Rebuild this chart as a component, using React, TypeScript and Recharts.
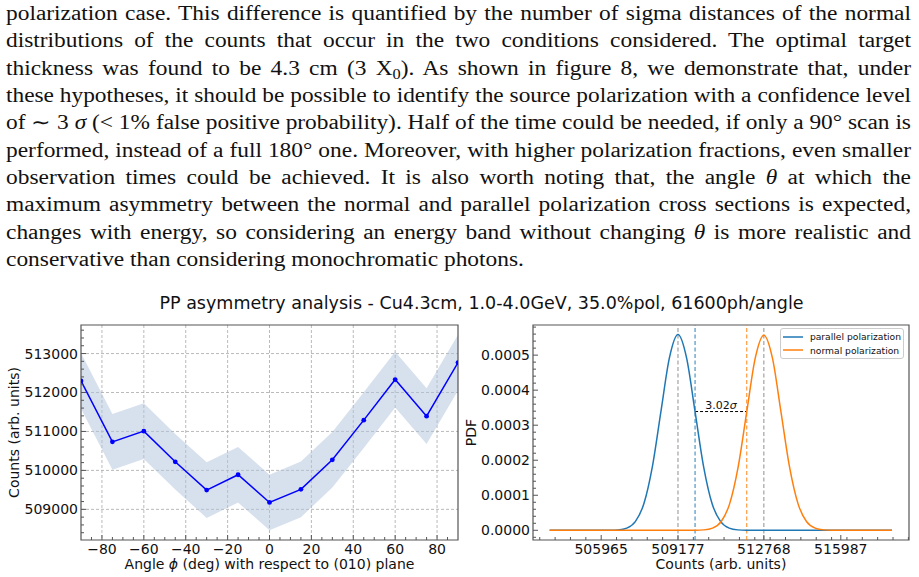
import React, { useLayoutEffect, useRef, useState } from 'react';
import {
  ComposedChart,
  Line,
  Area,
  XAxis,
  YAxis,
  CartesianGrid,
  ReferenceLine,
  ReferenceArea,
  Legend,
  Label,
} from 'recharts';

// ---------- angular scan (left panel) ----------
const angles = [-90, -75, -60, -45, -30, -15, 0, 15, 30, 45, 60, 75, 90];
const counts = [512298, 510733, 511008, 510221, 509495, 509888, 509177, 509513, 510272, 511290, 512333, 511393, 512768];
const countErrors = [716, 715, 715, 714, 714, 714, 714, 714, 714, 715, 716, 715, 716];

const angleMajorTicks = [-80, -60, -40, -20, 0, 20, 40, 60, 80];
const angleMinorTicks = [-85, -75, -70, -65, -55, -50, -45, -35, -30, -25, -15, -10, -5, 5, 10, 15, 25, 30, 35, 45, 50, 55, 65, 70, 75, 85];
const countMajorTicks = [509000, 510000, 511000, 512000, 513000];
const countMinorTicks = [508400, 508600, 508800, 509200, 509400, 509600, 509800, 510200, 510400, 510600, 510800, 511200, 511400, 511600, 511800, 512200, 512400, 512600, 512800, 513200, 513400, 513600];
const angleDomain: [number, number] = [-90, 90];
const countDomain: [number, number] = [508213, 513733];

// ---------- count distributions (right panel) ----------
const parallelCounts = [503810, 506321, 506678, 507035, 507392, 507749, 508106, 508463, 508820, 509177, 509534, 509891, 510248, 510605, 510962, 511319, 511676, 512033, 518130];
const parallelPdf = [0, 0.0000002, 0.0000012, 0.0000062, 0.0000246, 0.0000757, 0.000182, 0.000339, 0.000493, 0.000559, 0.000493, 0.000339, 0.000182, 0.0000757, 0.0000246, 0.0000062, 0.0000012, 0.0000002, 0];
const normalCounts = [503810, 509904, 510262, 510620, 510978, 511336, 511694, 512052, 512410, 512768, 513126, 513484, 513842, 514200, 514558, 514916, 515274, 515632, 518130];
const normalPdf = [0, 0.0000002, 0.0000012, 0.0000062, 0.0000245, 0.0000754, 0.000181, 0.000338, 0.000492, 0.000557, 0.000492, 0.000338, 0.000181, 0.0000754, 0.0000245, 0.0000062, 0.0000012, 0.0000002, 0];

const meanCounts = [509177, 512768];
const parallelThreshold = 509891;
const normalThreshold = 512052;
const separationPdf = 0.000339;
const separationSigma = '3.02';

const pdfMajorTicks = [0, 0.0001, 0.0002, 0.0003, 0.0004, 0.0005];
const pdfMinorTicks = [-0.00002, 0.00002, 0.00004, 0.00006, 0.00008, 0.00012, 0.00014, 0.00016, 0.00018, 0.00022, 0.00024, 0.00026, 0.00028, 0.00032, 0.00034, 0.00036, 0.00038, 0.00042, 0.00044, 0.00046, 0.00048, 0.00052, 0.00054, 0.00056, 0.00058];
const countsMajorTicks = [505965, 509177, 512768, 515987];
const countsMinorTicks = [503395, 504038, 504680, 505323, 506607, 507250, 507892, 508535, 509819, 510462, 511104, 511747, 512389, 513031, 513674, 514316, 514959, 515601, 516243, 516886, 517528, 518171, 518813];
const pdfDomain: [number, number] = [-0.0000277, 0.000586];
const countsDomain: [number, number] = [503113, 518839];

const legendItems = [
  { label: 'parallel polarization', color: '#1f77b4' },
  { label: 'normal polarization', color: '#ff7f0e' },
];

const chartTitle = 'PP asymmetry analysis - Cu4.3cm, 1.0-4.0GeV, 35.0%pol, 61600ph/angle';

// ---------- derived tables ----------
const scanRows = angles.map((a, i) => ({
  angle: a,
  count: counts[i],
  band: [counts[i] - countErrors[i], counts[i] + countErrors[i]],
}));
const parallelRows = parallelCounts.map((x, i) => ({ x, y: parallelPdf[i] }));
const normalRows = normalCounts.map((x, i) => ({ x, y: normalPdf[i] }));

const FONT = '"DejaVu Sans", sans-serif';
const SPINE = '#555555';
const TEXT = '#111111';

const sortTicks = (a: number[], b: number[]) => [...a, ...b].sort((p, q) => p - q);
const isMajor = (v: number, majors: number[]) =>
  majors.some((m) => Math.abs(m - v) <= 1e-9 * Math.max(1, Math.abs(m)));

const minusFmt = (v: number) => (v < 0 ? '\u2212' + Math.abs(v) : String(v));

// inward-pointing ticks on the bottom spine, labels only on major ticks
const bottomTick = (majors: number[], fmt: (v: number) => string) => (props: any) => {
  const { x, y, payload } = props;
  const major = isMajor(payload.value, majors);
  return (
    <g>
      <line x1={x} x2={x} y1={y} y2={y - (major ? 5 : 3)} stroke={SPINE} strokeWidth={1} />
      {major && (
        <text x={x} y={y + 14} textAnchor="middle" fontSize={14} fontFamily={FONT} fill={TEXT}>
          {fmt(payload.value)}
        </text>
      )}
    </g>
  );
};

// inward-pointing ticks on the left spine
const leftTick = (majors: number[], fmt: (v: number) => string) => (props: any) => {
  const { x, y, payload } = props;
  const major = isMajor(payload.value, majors);
  return (
    <g>
      <line x1={x} x2={x + (major ? 5 : 3)} y1={y} y2={y} stroke={SPINE} strokeWidth={1} />
      {major && (
        <text x={x - 3} y={y + 5} textAnchor="end" fontSize={14} fontFamily={FONT} fill={TEXT}>
          {fmt(payload.value)}
        </text>
      )}
    </g>
  );
};

const verticalTitle = (text: string, dx: number) => (props: any) => {
  const vb = props.viewBox || {};
  const cx = (vb.x || 0) + dx;
  const cy = (vb.y || 0) + (vb.height || 0) / 2;
  return (
    <text
      x={cx}
      y={cy}
      transform={`rotate(-90, ${cx}, ${cy})`}
      textAnchor="middle"
      dominantBaseline="central"
      fontSize={14}
      fontFamily={FONT}
      fill={TEXT}
    >
      {text}
    </text>
  );
};

const horizontalTitle = (node: React.ReactNode, dy: number) => (props: any) => {
  const vb = props.viewBox || {};
  return (
    <text
      x={(vb.x || 0) + (vb.width || 0) / 2}
      y={(vb.y || 0) + dy}
      textAnchor="middle"
      fontSize={14}
      fontFamily={FONT}
      fill={TEXT}
    >
      {node}
    </text>
  );
};

const renderLegend = () => (
  <div
    style={{
      width: 124,
      height: 31,
      boxSizing: 'border-box',
      border: '1px solid #cccccc',
      borderRadius: 3,
      background: 'rgba(255,255,255,0.85)',
      padding: '1px 2px',
      fontFamily: FONT,
      fontSize: 9.2,
      color: TEXT,
    }}
  >
    {legendItems.map((item) => (
      <div key={item.label} style={{ display: 'flex', alignItems: 'center', height: 13.6 }}>
        <svg width={20} height={4} style={{ display: 'block' }}>
          <line x1={0} x2={20} y1={2} y2={2} stroke={item.color} strokeWidth={1.5} />
        </svg>
        <span style={{ marginLeft: 7, whiteSpace: 'nowrap', lineHeight: '13.6px' }}>{item.label}</span>
      </div>
    ))}
  </div>
);

// ---------- body text above the figure ----------
const paragraphLines: React.ReactNode[] = [
  'polarization case. This difference is quantified by the number of sigma distances of the normal',
  'distributions of the counts that occur in the two conditions considered.  The optimal target',
  <>
    thickness was found to be 4.3 cm (3 X
    <span style={{ fontSize: '0.7em', verticalAlign: '-0.3em', lineHeight: 0 }}>0</span>).  As shown in figure 8, we demonstrate that, under
  </>,
  'these hypotheses, it should be possible to identify the source polarization with a confidence level',
  <>
    of ∼ 3 <i>σ</i> (&lt; 1% false positive probability). Half of the time could be needed, if only a 90° scan is
  </>,
  'performed, instead of a full 180° one. Moreover, with higher polarization fractions, even smaller',
  <>
    observation times could be achieved.  It is also worth noting that, the angle <i>θ</i> at which the
  </>,
  'maximum asymmetry between the normal and parallel polarization cross sections is expected,',
  <>
    changes with energy, so considering an energy band without changing <i>θ</i> is more realistic and
  </>,
  'conservative than considering monochromatic photons.',
];

const TEXT_WIDTH = 905;
const TEXT_STRETCH = 1.17;
const LINE_H = 27.35;

// One typeset line: glyphs are widened horizontally, and justified lines are
// squeezed just enough to fit the column.
function TextLine({ children, justify }: { children: React.ReactNode; justify: boolean }) {
  const probe = useRef<HTMLSpanElement>(null);
  const [scale, setScale] = useState(TEXT_STRETCH);
  useLayoutEffect(() => {
    const el = probe.current;
    if (!el) return;
    const natural = el.getBoundingClientRect().width;
    if (natural > 0 && justify) setScale(Math.min(TEXT_STRETCH, (TEXT_WIDTH - 1) / natural));
  }, [justify]);
  return (
    <div style={{ position: 'relative', height: LINE_H, lineHeight: `${LINE_H}px` }}>
      <span
        ref={probe}
        style={{ position: 'absolute', left: 0, top: 0, visibility: 'hidden', whiteSpace: 'nowrap' }}
      >
        {children}
      </span>
      <div
        style={{
          width: TEXT_WIDTH / scale,
          transform: `scaleX(${scale})`,
          transformOrigin: '0 0',
          textAlign: justify ? 'justify' : 'left',
          textAlignLast: justify ? 'justify' : 'auto',
        }}
      >
        {children}
      </div>
    </div>
  );
}

function ScanPanel() {
  return (
    <ComposedChart
      width={465}
      height={287}
      data={scanRows}
      margin={{ top: 35, right: 7, bottom: 0, left: 0 }}
    >
      <CartesianGrid
        stroke="#a8a8a8"
        strokeWidth={0.8}
        strokeDasharray="3 2"
        horizontalValues={countMajorTicks}
        verticalValues={angleMajorTicks}
      />
      <XAxis
        dataKey="angle"
        type="number"
        domain={angleDomain}
        allowDataOverflow
        ticks={sortTicks(angleMajorTicks, angleMinorTicks)}
        interval={0}
        tickSize={0}
        tickMargin={0}
        tickLine={false}
        axisLine={false}
        height={37}
        tick={bottomTick(angleMajorTicks, minusFmt)}
      >
        <Label
          content={horizontalTitle(
            <>
              Angle <tspan fontStyle="italic">ϕ</tspan> (deg) with respect to (010) plane
            </>,
            28.5
          )}
        />
      </XAxis>
      <YAxis
        type="number"
        domain={countDomain}
        allowDataOverflow
        ticks={sortTicks(countMajorTicks, countMinorTicks)}
        interval={0}
        tickSize={0}
        tickMargin={0}
        tickLine={false}
        axisLine={false}
        width={81}
        tick={leftTick(countMajorTicks, (v) => String(v))}
      >
        <Label content={verticalTitle('Counts (arb. units)', 14)} />
      </YAxis>
      <Area
        dataKey="band"
        type="linear"
        stroke="none"
        fill="#b0c4de"
        fillOpacity={0.5}
        isAnimationActive={false}
        activeDot={false}
      />
      <Line
        dataKey="count"
        type="linear"
        stroke="#0000ff"
        strokeWidth={1.5}
        dot={{ r: 2.4, fill: '#0000ff', stroke: 'none' }}
        activeDot={false}
        isAnimationActive={false}
      />
      <ReferenceArea
        x1={angleDomain[0]}
        x2={angleDomain[1]}
        y1={countDomain[0]}
        y2={countDomain[1]}
        fill="none"
        stroke={SPINE}
        strokeWidth={1.2}
      />
    </ComposedChart>
  );
}

function DistributionPanel() {
  return (
    <ComposedChart width={459} height={287} margin={{ top: 35, right: 10, bottom: 0, left: 0 }}>
      <XAxis
        dataKey="x"
        type="number"
        domain={countsDomain}
        allowDataOverflow
        ticks={sortTicks(countsMajorTicks, countsMinorTicks)}
        interval={0}
        tickSize={0}
        tickMargin={0}
        tickLine={false}
        axisLine={false}
        height={37}
        tick={bottomTick(countsMajorTicks, (v) => String(v))}
      >
        <Label content={horizontalTitle('Counts (arb. units)', 28.5)} />
      </XAxis>
      <YAxis
        type="number"
        domain={pdfDomain}
        allowDataOverflow
        ticks={sortTicks(pdfMajorTicks, pdfMinorTicks)}
        interval={0}
        tickSize={0}
        tickMargin={0}
        tickLine={false}
        axisLine={false}
        width={73}
        tick={leftTick(pdfMajorTicks, (v) => v.toFixed(4))}
      >
        <Label content={verticalTitle('PDF', 11)} />
      </YAxis>
      {meanCounts.map((m) => (
        <ReferenceLine key={m} x={m} stroke="#9a9a9a" strokeWidth={1.1} strokeDasharray="4 2.5" />
      ))}
      <ReferenceLine x={parallelThreshold} stroke="#1f77b4" strokeOpacity={0.85} strokeWidth={1.1} strokeDasharray="4 2.5" />
      <ReferenceLine x={normalThreshold} stroke="#ff7f0e" strokeOpacity={0.85} strokeWidth={1.1} strokeDasharray="4 2.5" />
      <ReferenceLine
        segment={[
          { x: parallelThreshold, y: separationPdf },
          { x: normalThreshold, y: separationPdf },
        ]}
        stroke="#000000"
        strokeWidth={1}
        strokeDasharray="3 2"
      >
        <Label
          content={(props: any) => {
            const vb = props.viewBox || {};
            return (
              <text
                x={(vb.x || 0) + (vb.width || 0) / 2}
                y={(vb.y || 0) - 3}
                textAnchor="middle"
                fontSize={11}
                fontFamily={FONT}
                fill={TEXT}
              >
                {separationSigma}
                <tspan fontStyle="italic">σ</tspan>
              </text>
            );
          }}
        />
      </ReferenceLine>
      <Line
        data={parallelRows}
        dataKey="y"
        type="monotone"
        stroke="#1f77b4"
        strokeWidth={1.5}
        dot={false}
        activeDot={false}
        isAnimationActive={false}
      />
      <Line
        data={normalRows}
        dataKey="y"
        type="monotone"
        stroke="#ff7f0e"
        strokeWidth={1.5}
        dot={false}
        activeDot={false}
        isAnimationActive={false}
      />
      <ReferenceArea
        x1={countsDomain[0]}
        x2={countsDomain[1]}
        y1={pdfDomain[0]}
        y2={pdfDomain[1]}
        fill="none"
        stroke={SPINE}
        strokeWidth={1.2}
      />
      <Legend
        layout="vertical"
        align="center"
        verticalAlign="middle"
        content={renderLegend}
        wrapperStyle={{ left: 320, top: 38, width: 124, height: 31 }}
      />
    </ComposedChart>
  );
}

export default function App() {
  const last = paragraphLines.length - 1;
  return (
    <div
      style={{
        position: 'absolute',
        left: 0,
        top: 0,
        width: 919,
        height: 577,
        background: '#ffffff',
        overflow: 'hidden',
      }}
    >
      <div
        style={{
          position: 'absolute',
          left: 6,
          top: 0,
          width: TEXT_WIDTH,
          fontFamily: '"Liberation Serif", serif',
          fontSize: 20,
          color: TEXT,
        }}
      >
        {paragraphLines.map((line, i) => (
          <TextLine key={i} justify={i < last}>
            {line}
          </TextLine>
        ))}
      </div>
      <div
        style={{
          position: 'absolute',
          left: 0,
          top: 293,
          width: 963,
          textAlign: 'center',
          fontFamily: FONT,
          fontSize: 17.5,
          lineHeight: '20px',
          color: TEXT,
          whiteSpace: 'nowrap',
        }}
      >
        {chartTitle}
      </div>
      <div style={{ position: 'absolute', left: 0, top: 290 }}>
        <ScanPanel />
      </div>
      <div style={{ position: 'absolute', left: 460, top: 290 }}>
        <DistributionPanel />
      </div>
    </div>
  );
}
